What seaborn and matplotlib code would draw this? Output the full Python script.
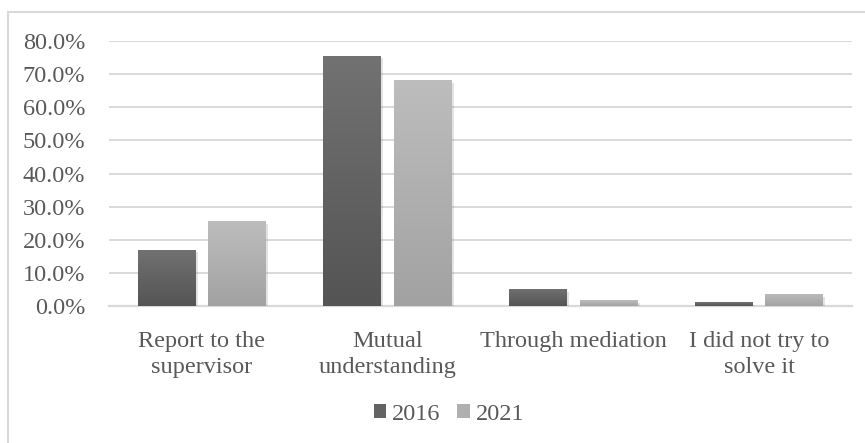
import numpy as np
import pandas as pd
import matplotlib
matplotlib.use("Agg")
import matplotlib.pyplot as plt
import matplotlib.patheffects as pe
from matplotlib.patches import Rectangle
from matplotlib.ticker import PercentFormatter
import seaborn as sns

# Ways of resolving a conflict, share of respondents by survey year
categories = ["Report to the\nsupervisor", "Mutual\nunderstanding",
              "Through mediation", "I did not try to\nsolve it"]
years = ["2016", "2021"]
share_2016 = [17.0, 75.6, 5.2, 1.2]
share_2021 = [25.7, 68.3, 1.8, 3.7]
y_ticks = [0, 10, 20, 30, 40, 50, 60, 70, 80]

df = pd.DataFrame({
    "category": categories * 2,
    "year": [years[0]] * len(categories) + [years[1]] * len(categories),
    "share": share_2016 + share_2021,
})

sns.set_theme(style="white")
plt.rcParams["font.family"] = ["Liberation Serif", "DejaVu Serif"]
text_color = "#595959"
grid_color = "#d9d9d9"
font_size = 17.5

fig = plt.figure(figsize=(8.65, 4.43), dpi=100)
ax = fig.add_axes([109 / 865, 1 - 306 / 443, (852 - 109) / 865, (306 - 41) / 443])

palette = {"2016": "#636363", "2021": "#b0b0b0"}
sns.barplot(data=df, x="category", y="share", hue="year", hue_order=years,
            order=categories, palette=palette, width=0.76, gap=0.18,
            saturation=1, ax=ax, legend=False, zorder=3)

# vertical shading inside each bar, with a soft drop shadow under it
gradients = {
    "2016": ("#727272", "#545454"),
    "2021": ("#bdbdbd", "#a2a2a2"),
}
ax.set_ylim(0, 80)
ax.set_xlim(-0.5, 3.5)
for container, yr in zip(ax.containers, years):
    top_c, bot_c = gradients[yr]
    cmap = matplotlib.colors.LinearSegmentedColormap.from_list("g" + yr, [bot_c, top_c])
    for bar in container:
        bar.set_edgecolor("none")
        bar.set_path_effects([
            pe.SimplePatchShadow(offset=(1.5, -2), shadow_rgbFace="#808080", alpha=0.22),
            pe.Normal(),
        ])
        x0, y0 = bar.get_x(), bar.get_y()
        w, h = bar.get_width(), bar.get_height()
        grad = np.linspace(0, 1, 256).reshape(-1, 1)
        im = ax.imshow(grad, cmap=cmap, origin="lower", aspect="auto",
                       extent=(x0, x0 + w, y0, y0 + h), zorder=4,
                       interpolation="bilinear")
        im.set_clip_path(bar)
ax.set_xlim(-0.5, 3.5)
ax.set_ylim(0, 80)

ax.set_yticks(y_ticks)
ax.yaxis.set_major_formatter(PercentFormatter(decimals=1))
ax.grid(axis="y", color=grid_color, linewidth=1.4, zorder=0)
ax.grid(axis="x", visible=False)
for side in ["top", "right", "left"]:
    ax.spines[side].set_visible(False)
ax.spines["bottom"].set_color(grid_color)
ax.spines["bottom"].set_linewidth(1.6)
ax.spines["bottom"].set_zorder(2)

ax.tick_params(axis="y", length=0, pad=17, labelsize=font_size, labelcolor=text_color)
ax.tick_params(axis="x", length=0, pad=18, labelsize=font_size, labelcolor=text_color)
ax.set_xlabel("")
ax.set_ylabel("")
for lbl in ax.get_xticklabels():
    lbl.set_linespacing(1.3)

handles = [Rectangle((0, 0), 1, 1, facecolor=palette[y], edgecolor="none") for y in years]
fig.legend(handles, years, loc="center", bbox_to_anchor=(449 / 865, 1 - 414 / 443),
           ncol=2, frameon=False, fontsize=font_size, labelcolor=text_color,
           handlelength=0.5, handleheight=0.5, handletextpad=0.25,
           columnspacing=0.7)

# light frame around the chart area
fig.patches.append(Rectangle((8 / 865, -0.1), 1.2, 1 - 12 / 443 + 0.1,
                             transform=fig.transFigure, fill=False,
                             edgecolor="#d9d9d9", linewidth=1.5, zorder=0))

fig.savefig("out.png", dpi=100, facecolor="white")
